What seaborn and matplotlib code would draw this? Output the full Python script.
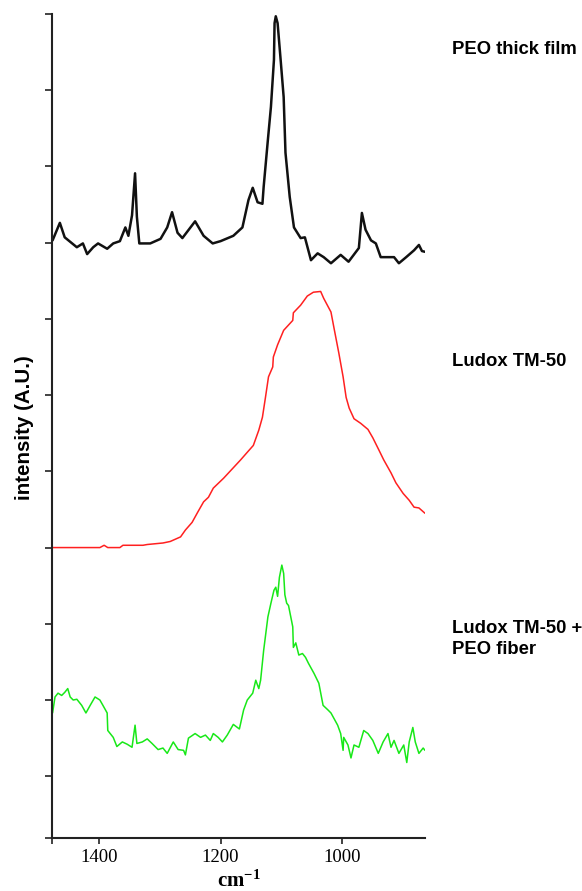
import numpy as np
import pandas as pd
import matplotlib
matplotlib.use("Agg")
import matplotlib.pyplot as plt
import seaborn as sns

# ---------------- data (wavenumber in cm-1, intensity in A.U.) ----------------
peo_film_wn = [1477, 1465, 1457, 1437, 1427, 1420, 1410, 1402, 1387, 1377, 1366, 1357, 1352,
               1346, 1341, 1338, 1334, 1316, 1299, 1288, 1280, 1271, 1263, 1242, 1228, 1213,
               1200, 1179, 1164, 1154, 1147, 1139, 1131, 1129, 1122, 1117, 1112, 1111, 1109,
               1106, 1101, 1096, 1093, 1086, 1079, 1068, 1061, 1051, 1040, 1030, 1018, 1002,
               989, 972, 967, 961, 952, 944, 936, 914, 906, 894, 881, 873, 868, 863]
peo_film_int = [0.03, 0.26, 0.07, -0.06, -0.01, -0.15, -0.06, -0.01, -0.08, -0.01, 0.02, 0.20, 0.09,
                0.36, 0.91, 0.34, -0.01, -0.01, 0.05, 0.20, 0.40, 0.13, 0.06, 0.28, 0.09, -0.01,
                0.02, 0.09, 0.20, 0.56, 0.72, 0.53, 0.51, 0.73, 1.35, 1.78, 2.40, 2.88, 2.97,
                2.88, 2.40, 1.91, 1.18, 0.60, 0.20, 0.06, 0.07, -0.23, -0.14, -0.19, -0.27, -0.16,
                -0.25, -0.07, 0.39, 0.17, 0.03, -0.01, -0.19, -0.19, -0.27, -0.19, -0.10, -0.03, -0.11, -0.12]

ludox_wn = [1477, 1399, 1392, 1386, 1366, 1361, 1328, 1321, 1295, 1283, 1266, 1258, 1247, 1238,
            1228, 1220, 1212, 1195, 1167, 1156, 1146, 1137, 1131, 1126, 1121, 1114, 1113, 1106,
            1096, 1081, 1080, 1068, 1057, 1047, 1035, 1030, 1018, 1013, 1005, 998, 993, 988,
            980, 969, 957, 949, 939, 931, 919, 911, 899, 889, 881, 873, 863]
ludox_int = [0.00, 0.00, 0.03, 0.00, 0.00, 0.03, 0.03, 0.04, 0.06, 0.08, 0.14, 0.23, 0.33, 0.46,
             0.60, 0.66, 0.78, 0.91, 1.15, 1.25, 1.34, 1.54, 1.71, 1.97, 2.24, 2.37, 2.50, 2.66,
             2.85, 2.98, 3.08, 3.18, 3.30, 3.35, 3.36, 3.27, 3.09, 2.88, 2.55, 2.24, 1.97, 1.83,
             1.69, 1.63, 1.55, 1.44, 1.28, 1.15, 0.98, 0.85, 0.71, 0.62, 0.53, 0.52, 0.45]

fiber_wn = [1477, 1473, 1468, 1462, 1457, 1452, 1448, 1443, 1437, 1429, 1422, 1415, 1407, 1399,
            1394, 1387, 1386, 1377, 1371, 1362, 1354, 1346, 1341, 1338, 1329, 1321, 1313, 1303,
            1295, 1288, 1278, 1270, 1261, 1258, 1253, 1242, 1233, 1225, 1217, 1212, 1204, 1197,
            1189, 1179, 1169, 1162, 1156, 1147, 1142, 1137, 1134, 1129, 1122, 1117, 1112, 1109,
            1106, 1103, 1099, 1096, 1094, 1091, 1088, 1081, 1080, 1076, 1071, 1065, 1060, 1055,
            1046, 1038, 1031, 1023, 1018, 1007, 1002, 998, 997, 990, 985, 980, 972, 964, 957,
            949, 940, 932, 924, 919, 914, 906, 898, 893, 889, 883, 879, 873, 866, 863]
fiber_int = [0.83, 1.04, 1.09, 1.06, 1.10, 1.15, 1.04, 1.00, 1.01, 0.93, 0.83, 0.93, 1.04, 1.00,
             0.93, 0.83, 0.60, 0.51, 0.39, 0.45, 0.42, 0.38, 0.67, 0.43, 0.45, 0.49, 0.43, 0.35,
             0.37, 0.30, 0.45, 0.35, 0.34, 0.28, 0.50, 0.56, 0.51, 0.54, 0.47, 0.56, 0.51, 0.45,
             0.54, 0.68, 0.62, 0.87, 1.00, 1.09, 1.26, 1.15, 1.26, 1.65, 2.09, 2.27, 2.44, 2.48,
             2.36, 2.61, 2.77, 2.66, 2.38, 2.27, 2.24, 1.96, 1.69, 1.75, 1.59, 1.61, 1.56, 1.48,
             1.35, 1.22, 0.93, 0.87, 0.83, 0.67, 0.56, 0.34, 0.51, 0.41, 0.24, 0.41, 0.38, 0.60, 0.56,
             0.47, 0.30, 0.45, 0.56, 0.38, 0.47, 0.30, 0.41, 0.18, 0.45, 0.64, 0.45, 0.30, 0.37, 0.34]

sample_names = ["PEO thick film", "Ludox TM-50", "Ludox TM-50 +\nPEO fiber"]
sample_offsets = [7.0, 3.0, 0.0]
sample_colors = ["#111111", "#ff2020", "#18e818"]
x_ticks = [1400, 1200, 1000]
y_ticks = list(range(0, 11))

# ---------------- style ----------------
sns.set_style("ticks")
plt.rcParams["font.family"] = ["Liberation Sans", "DejaVu Sans"]
plt.rcParams["text.color"] = "black"
plt.rcParams["xtick.color"] = "#222222"
plt.rcParams["xtick.labelcolor"] = "black"
plt.rcParams["mathtext.fontset"] = "custom"
plt.rcParams["mathtext.rm"] = "Liberation Serif"
plt.rcParams["mathtext.bf"] = "Liberation Serif:bold"

fig = plt.figure(figsize=(5.82, 8.91), dpi=100)
ax = fig.add_axes([0.0893, 0.0595, 0.6409, 0.9248])

series = [(peo_film_wn, peo_film_int), (ludox_wn, ludox_int), (fiber_wn, fiber_int)]
widths = [1.8, 1.1, 1.1]
for (wn, inten), name, off, col, lw in zip(series, sample_names, sample_offsets, sample_colors, widths):
    df = pd.DataFrame({"wn": wn, "intensity": np.asarray(inten) + off})
    sns.lineplot(data=df, x="wn", y="intensity", color=col, linewidth=lw,
                 sort=False, estimator=None, ax=ax, legend=False)

ax.set_xlim(1478, 863)
ax.set_ylim(-0.81, 10.0)
ax.set_xticks(x_ticks)
ax.set_xticklabels([str(v) for v in x_ticks], family="Liberation Serif", fontsize=13.5, color="black")
ax.set_yticks(y_ticks)
ax.set_yticklabels([])
ax.set_xticks([1478], minor=True)
ax.set_yticks([-0.81], minor=True)
ax.tick_params(axis="x", which="both", direction="out", length=4, width=1.2, color="#222222", pad=4)
ax.tick_params(axis="y", which="both", direction="out", length=5, width=1.2, color="#222222")
ax.set_xlabel("")
ax.set_ylabel("")
sns.despine(ax=ax, top=True, right=True)
for s in ["left", "bottom"]:
    ax.spines[s].set_linewidth(1.5)
    ax.spines[s].set_color("#222222")

# labels
fig.text(25 / 582, 1 - 428 / 891, "intensity (A.U.)", rotation=90, ha="center", va="center",
         fontsize=14.8, fontweight="bold", color="black")
fig.text(239 / 582, 1 - 887 / 891, r"$\mathbf{cm^{-1}}$", ha="center", va="baseline",
         fontsize=15, color="black")

label_y = [49, 361, 639]
for name, yy in zip(sample_names, label_y):
    fig.text(452 / 582, 1 - yy / 891, name, ha="left", va="center", fontsize=13.3,
             fontweight="bold", linespacing=1.3, color="black")

fig.savefig("out.png", dpi=100)
